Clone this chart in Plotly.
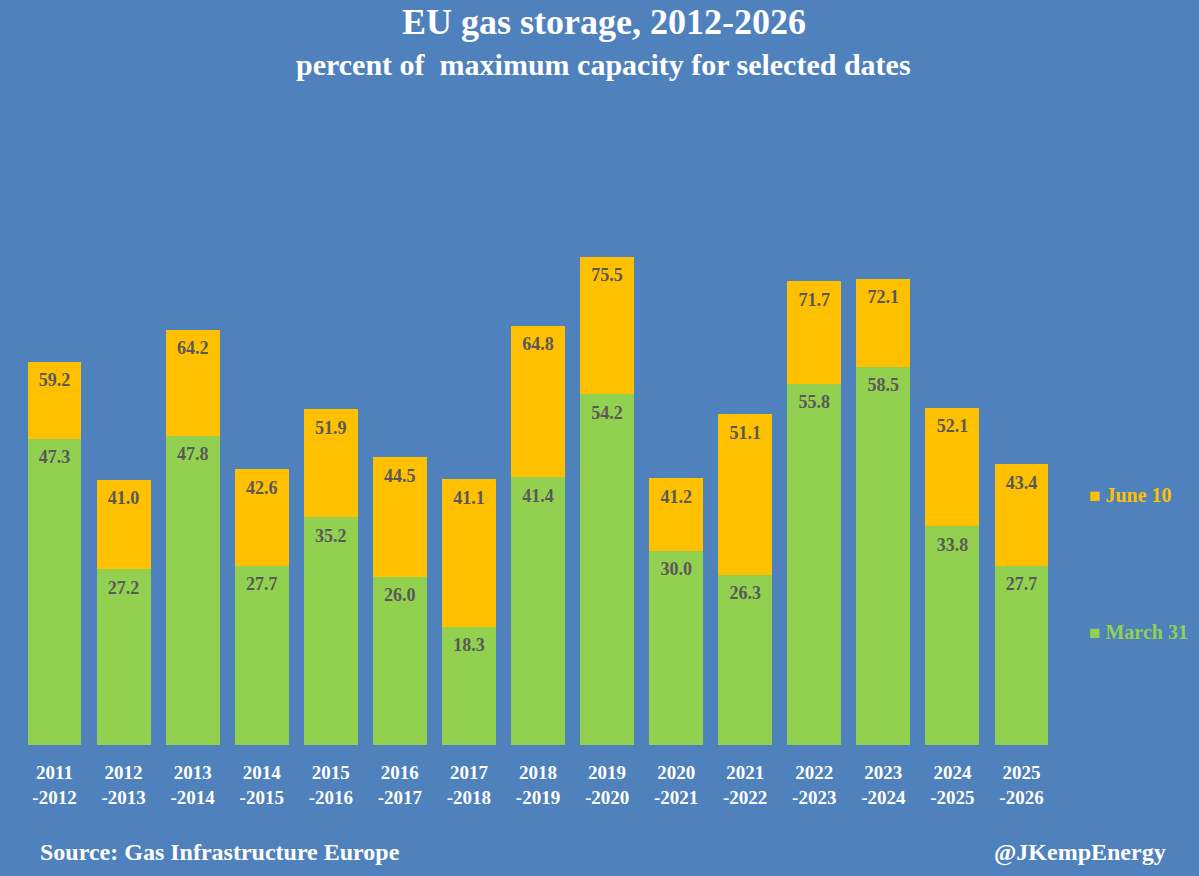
import plotly.graph_objects as go

seasons = ["2011<br>-2012", "2012<br>-2013", "2013<br>-2014", "2014<br>-2015", "2015<br>-2016",
           "2016<br>-2017", "2017<br>-2018", "2018<br>-2019", "2019<br>-2020", "2020<br>-2021",
           "2021<br>-2022", "2022<br>-2023", "2023<br>-2024", "2024<br>-2025", "2025<br>-2026"]
march31 = [47.3, 27.2, 47.8, 27.7, 35.2, 26.0, 18.3, 41.4, 54.2, 30.0, 26.3, 55.8, 58.5, 33.8, 27.7]
june10 = [59.2, 41.0, 64.2, 42.6, 51.9, 44.5, 41.1, 64.8, 75.5, 41.2, 51.1, 71.7, 72.1, 52.1, 43.4]

BG = "#4F81BD"
GREEN = "#92D050"
ORANGE = "#FFC000"
LABEL = "#595959"
FONT = "Liberation Serif"

W, H = 1199, 876
ML, MR, MT, MB = 20, 143, 98, 131
PW, PH = W - ML - MR, H - MT - MB


def px(x):
    return (x - ML) / PW


def py(y):
    return (H - MB - y) / PH


increment = [round(j - m, 1) for j, m in zip(june10, march31)]

fig = go.Figure()
fig.add_trace(go.Bar(x=seasons, y=march31, name="March 31",
                     marker=dict(color=GREEN, line=dict(width=0)), hoverinfo="skip"))
fig.add_trace(go.Bar(x=seasons, y=increment, name="June 10",
                     marker=dict(color=ORANGE, line=dict(width=0)), hoverinfo="skip"))

for vals in (march31, june10):
    fig.add_trace(go.Scatter(
        x=seasons, y=vals, mode="markers+text",
        marker=dict(size=16, opacity=0),
        text=[f"{v:.1f}" for v in vals], textposition="bottom center",
        textfont=dict(family=FONT, size=18, color=LABEL, weight="bold"),
        cliponaxis=False, hoverinfo="skip",
    ))

fig.update_layout(
    barmode="stack", bargap=0.22,
    width=W, height=H,
    paper_bgcolor=BG, plot_bgcolor=BG,
    margin=dict(l=ML, r=MR, t=MT, b=MB),
    showlegend=False,
    xaxis=dict(showgrid=False, zeroline=False, showline=False, ticks="",
               range=[-0.5, len(seasons) - 0.5],
               ticklabelstandoff=14,
               tickfont=dict(family=FONT, size=19, color="white", weight="bold")),
    yaxis=dict(range=[0, 100], visible=False),
)

fig.add_annotation(text="EU gas storage, 2012-2026", x=px(604), y=py(22),
                   xref="paper", yref="paper", xanchor="center", yanchor="middle", showarrow=False,
                   font=dict(family=FONT, size=36, color="white", weight="bold"))
fig.add_annotation(text="percent of  maximum capacity for selected dates", x=px(603), y=py(64),
                   xref="paper", yref="paper", xanchor="center", yanchor="middle", showarrow=False,
                   font=dict(family=FONT, size=30, color="white", weight="bold"))
fig.add_annotation(text="<span style='font-size:19px'>■</span> June 10", x=px(1087), y=py(495),
                   xref="paper", yref="paper", xanchor="left", yanchor="middle", showarrow=False,
                   font=dict(family=FONT, size=20, color=ORANGE, weight="bold"))
fig.add_annotation(text="<span style='font-size:19px'>■</span> March 31", x=px(1087), y=py(632),
                   xref="paper", yref="paper", xanchor="left", yanchor="middle", showarrow=False,
                   font=dict(family=FONT, size=20, color=GREEN, weight="bold"))
fig.add_annotation(text="Source: Gas Infrastructure Europe", x=px(38), y=py(852),
                   xref="paper", yref="paper", xanchor="left", yanchor="middle", showarrow=False,
                   font=dict(family=FONT, size=24, color="white", weight="bold"))
fig.add_annotation(text="@JKempEnergy", x=px(1168), y=py(852),
                   xref="paper", yref="paper", xanchor="right", yanchor="middle", showarrow=False,
                   font=dict(family=FONT, size=24, color="white", weight="bold"))

fig.write_html("out.html")
